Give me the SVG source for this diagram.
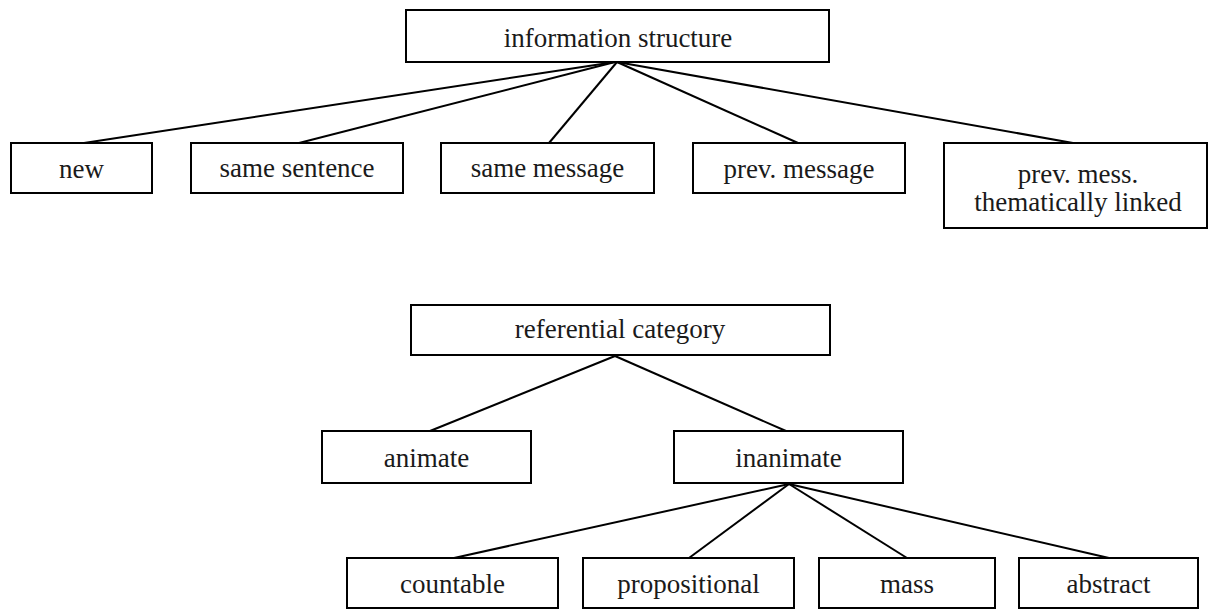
<svg xmlns="http://www.w3.org/2000/svg" width="1209" height="610" viewBox="0 0 1209 610">
<style>
.box{fill:#fff;stroke:#000;stroke-width:2}
.lbl{font-family:"Liberation Serif","Times New Roman",serif;font-size:27px;fill:#1a1a1a;text-anchor:middle}
.con{stroke:#000;stroke-width:2;fill:none}
</style>
<rect width="1209" height="610" fill="#fff"/>
<g id="connectors">
<line class="con" x1="615" y1="62" x2="84" y2="143"/>
<line class="con" x1="615" y1="62" x2="299" y2="143"/>
<line class="con" x1="617" y1="62" x2="549" y2="143"/>
<line class="con" x1="617" y1="62" x2="798" y2="143"/>
<line class="con" x1="617" y1="62" x2="1073" y2="143"/>
<line class="con" x1="615" y1="356" x2="430" y2="431"/>
<line class="con" x1="615" y1="356" x2="786" y2="431"/>
<line class="con" x1="789" y1="484" x2="454" y2="558"/>
<line class="con" x1="789" y1="484" x2="689" y2="558"/>
<line class="con" x1="789" y1="484" x2="907" y2="558"/>
<line class="con" x1="789" y1="484" x2="1109" y2="558"/>
</g>
<g id="information-structure"><rect class="box" x="406" y="10" width="423" height="52"/><text class="lbl" x="618" y="47">information structure</text></g>
<g id="new"><rect class="box" x="11" y="143" width="141" height="50"/><text class="lbl" x="81.5" y="178">new</text></g>
<g id="same-sentence"><rect class="box" x="191" y="143" width="212" height="50"/><text class="lbl" x="297" y="177">same sentence</text></g>
<g id="same-message"><rect class="box" x="441" y="143" width="213" height="50"/><text class="lbl" x="547.5" y="177">same message</text></g>
<g id="prev-message"><rect class="box" x="693" y="143" width="212" height="50"/><text class="lbl" x="799" y="178">prev. message</text></g>
<g id="prev-mess-thematically-linked"><rect class="box" x="944" y="143" width="263" height="85"/><text class="lbl" x="1078" y="183">prev. mess.</text><text class="lbl" x="1078" y="211">thematically linked</text></g>
<g id="referential-category"><rect class="box" x="411" y="305" width="419" height="50"/><text class="lbl" x="620" y="338">referential category</text></g>
<g id="animate"><rect class="box" x="322" y="431" width="209" height="52"/><text class="lbl" x="426.5" y="467">animate</text></g>
<g id="inanimate"><rect class="box" x="674" y="431" width="229" height="52"/><text class="lbl" x="788.5" y="467">inanimate</text></g>
<g id="countable"><rect class="box" x="347" y="558" width="211" height="50"/><text class="lbl" x="452.5" y="593">countable</text></g>
<g id="propositional"><rect class="box" x="583" y="558" width="211" height="50"/><text class="lbl" x="688.5" y="593">propositional</text></g>
<g id="mass"><rect class="box" x="819" y="558" width="176" height="50"/><text class="lbl" x="907" y="593">mass</text></g>
<g id="abstract"><rect class="box" x="1019" y="558" width="179" height="50"/><text class="lbl" x="1108.5" y="593">abstract</text></g>
</svg>
